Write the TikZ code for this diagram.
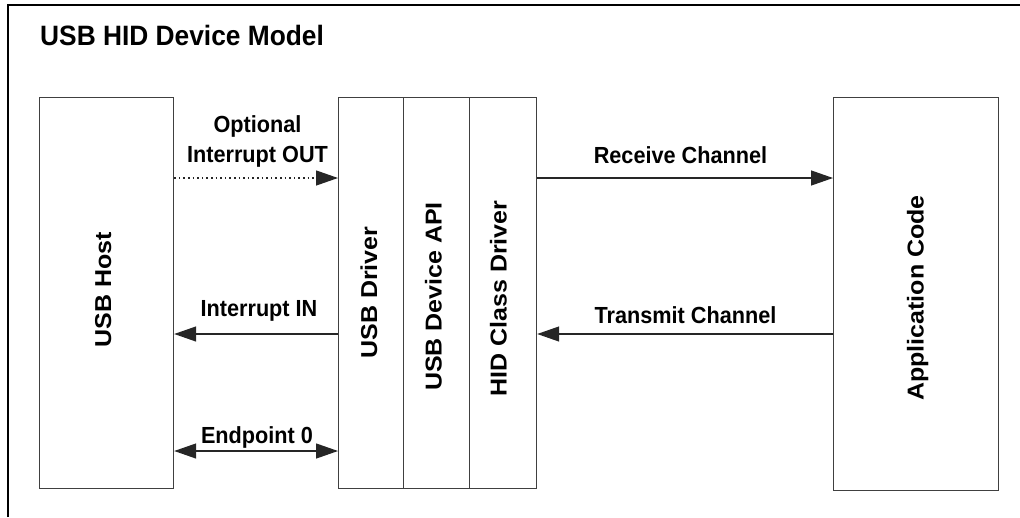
\documentclass[tikz,border=0pt]{standalone}
\usepackage{fontspec}
\setmainfont{Liberation Sans}
\usetikzlibrary{arrows.meta}
% narrow a piece of text horizontally
\newcommand\narrowtext[2]{\scalebox{#1}[1]{#2}}
\begin{document}
\begin{tikzpicture}[x=1pt,y=-1pt,
  block/.style={draw=black!75, line width=1.2pt, fill=white, inner sep=0pt,
                anchor=north west, minimum height=391pt},
  vtext/.style={rotate=90, inner sep=0pt, text height=0.72em, text depth=0pt,
                font=\fontsize{25}{30}\selectfont\bfseries},
  lbl/.style={anchor=base, inner sep=0pt, font=\fontsize{23.3}{28}\selectfont\bfseries},
  link/.style={draw=black!85, line width=1.3pt, -{Triangle[length=22pt,width=15pt]}},
  bothlink/.style={link, {Triangle[length=22pt,width=15pt]}-{Triangle[length=22pt,width=15pt]}},
  dotlink/.style={link, dash pattern=on 1.6pt off 3pt}
]
\useasboundingbox (0,0) rectangle (1020,517);

% outer frame (open to the right and bottom)
\draw[line width=2.6pt, black] (8,517) -- (8,5) -- (1020,5);

% title
\node[anchor=base west, inner sep=0pt, font=\fontsize{28}{32}\selectfont\bfseries]
  (title) at (40,45) {\narrowtext{0.94}{USB HID Device Model}};

% blocks
\node[block, minimum width=134pt] (host) at (39,97) {};
\node[block, minimum width=65pt]  (drv)  at (338,97) {};
\node[block, minimum width=66pt]  (api)  at (403,97) {};
\node[block, minimum width=67pt]  (hid)  at (469,97) {};
\node[block, minimum width=165pt, minimum height=393pt] (app) at (833,97) {};

% block captions
\node[vtext] (hostt) at (107.5,290) {\scalebox{1}[0.92]{USB Host}};
\node[vtext] (drvt)  at (373.5,292.5) {\scalebox{1}[0.92]{USB Driver}};
\node[vtext] (apit)  at (438,296.5) {\scalebox{1}[0.92]{USB Device API}};
\node[vtext] (hidt)  at (503,298.5) {\scalebox{1}[0.92]{HID Class Driver}};
\node[vtext] (appt)  at (920,298) {\scalebox{1}[0.92]{Application Code}};

% connector levels
\coordinate (yA) at (0,178);
\coordinate (yB) at (0,334);
\coordinate (yC) at (0,451);

% connectors
\draw[dotlink]  (host.east |- yA) -- (drv.west |- yA);
\draw[link]     (drv.west |- yB)  -- (host.east |- yB);
\draw[bothlink] (host.east |- yC) -- (drv.west |- yC);
\draw[link]     (hid.east |- yA)  -- (app.west |- yA);
\draw[link]     (app.west |- yB)  -- (hid.east |- yB);

% connector labels
\node[lbl] (optl)  at (257.5,132) {\narrowtext{0.93}{Optional}};
\node[lbl] (outl)  at (257.5,162) {\narrowtext{0.93}{Interrupt OUT}};
\node[lbl] (inl)   at (259,316)   {\narrowtext{0.93}{Interrupt IN}};
\node[lbl] (ep0l)  at (257,443)   {\narrowtext{0.93}{Endpoint 0}};
\node[lbl] (rxl)   at (680.5,163) {\narrowtext{0.93}{Receive Channel}};
\node[lbl] (txl)   at (685.5,323) {\narrowtext{0.93}{Transmit Channel}};
\end{tikzpicture}
\end{document}
